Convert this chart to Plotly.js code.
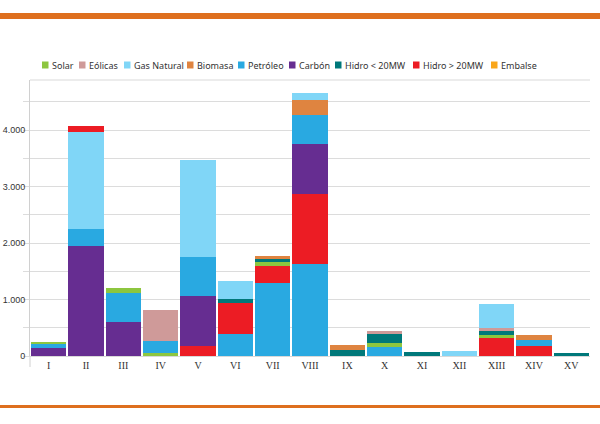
<!DOCTYPE html>
<html>
<head>
<meta charset="utf-8">
<script src="https://cdn.plot.ly/plotly-3.0.1.min.js"></script>
<style>
html,body{margin:0;padding:0;background:#fff;}
#chart{width:600px;height:424px;}
</style>
</head>
<body>
<div id="chart"></div>
<script>
// Categories (regions)
const categories = ['I','II','III','IV','V','VI','VII','VIII','IX','X','XI','XII','XIII','XIV','XV'];

// Series values (MW); some series appear at two stack levels
//                          I    II   III  IV   V    VI   VII   VIII  IX   X    XI  XII XIII XIV  XV
const solarLow        = [   0,   0,   0,  45,   0,   0,    0,    0,   0,   0,   0,  0,   0,   0,  0];
const petroleoLow     = [   0,   0,   0, 215,   0, 395, 1300, 1620,   0, 165,   0,  0,   0,   0,  0];
const hidroMayorLow   = [   0,   0,   0,   0, 185, 550,  285, 1240,   0,   0,   0,  0, 325, 175,  0];
const carbon          = [ 150,1950, 600,   0, 880,   0,    0,  900,   0,   0,   0,  0,   0,   0,  0];
const petroleo        = [  70, 300, 520,   0, 695,   0,    0,  500,   0,   0,   0,  0,   0, 100,  0];
const solar           = [  30,   0,  90,   0,   0,   0,   75,    0,   0,  60,   0,  0,  45,   0,  0];
const hidroMenor      = [   0,   0,   0,   0,   0,  70,   60,    0, 115, 165,  75,  0,  70,   0, 55];
const eolicas         = [   0,   0,   0, 550,   0,   0,    0,    0,   0,  50,   0,  0,  48,   0,  0];
const biomasa         = [   0,   0,   0,   0,   0,   0,   55,  265,  85,   0,   0,  0,   0, 100,  0];
const gasNatural      = [   0,1720,   0,   0,1710, 310,    0,  135,   0,   0,   0, 95, 430,   0,  0];
const hidroMayorHigh  = [   0, 105,   0,   0,   0,   0,    0,    0,   0,   0,   0,  0,   0,   0,  0];
const embalse         = [   0,   0,   0,   0,   0,   0,    0,    0,   0,   0,   0,  0,   0,   0,  0];

// Legend labels and colours
const legendLabels = ['Solar','Eólicas','Gas Natural','Biomasa','Petróleo','Carbón','Hidro < 20MW','Hidro > 20MW','Embalse'];
const colors = {
  solar:'#8dc63f', eolicas:'#cf9a99', gas:'#80d6f7', biomasa:'#df8440',
  petroleo:'#29a9e1', carbon:'#662d91', hidroMenor:'#00787a', hidroMayor:'#ec1c24', embalse:'#f9a61a'
};
const legendColors = [colors.solar, colors.eolicas, colors.gas, colors.biomasa, colors.petroleo, colors.carbon, colors.hidroMenor, colors.hidroMayor, colors.embalse];

const stack = [
  ['Solar', solarLow, colors.solar],
  ['Petróleo', petroleoLow, colors.petroleo],
  ['Hidro > 20MW', hidroMayorLow, colors.hidroMayor],
  ['Carbón', carbon, colors.carbon],
  ['Petróleo', petroleo, colors.petroleo],
  ['Solar', solar, colors.solar],
  ['Hidro < 20MW', hidroMenor, colors.hidroMenor],
  ['Eólicas', eolicas, colors.eolicas],
  ['Biomasa', biomasa, colors.biomasa],
  ['Gas Natural', gasNatural, colors.gas],
  ['Hidro > 20MW', hidroMayorHigh, colors.hidroMayor],
  ['Embalse', embalse, colors.embalse]
];

const traces = stack.map(([name, vals, col]) => ({
  type:'bar', name:name, x:categories, y:vals,
  marker:{color:col, line:{width:0}}, showlegend:false,
  hovertemplate:'%{x}: %{y}<extra>'+name+'</extra>'
}));

// Manual legend (layout only): pixel positions of each entry's swatch
const W = 560, H = 276, L = 30, T = 80;
const legendX = [42, 79, 124, 187, 238, 289, 335, 413, 491];
const legendY = 65;
const px2x = p => (p - L) / W;
const px2y = p => (T + H - p) / H;

const shapes = [
  // orange rules
  {type:'line', xref:'paper', yref:'paper', x0:px2x(0), x1:px2x(600), y0:px2y(16), y1:px2y(16), line:{color:'#de6f1e', width:6}},
  {type:'line', xref:'paper', yref:'paper', x0:px2x(0), x1:px2x(600), y0:px2y(406.5), y1:px2y(406.5), line:{color:'#de6f1e', width:3}},
  // top frame line of plot area
  {type:'line', xref:'paper', yref:'paper', x0:0, x1:1, y0:1, y1:1, line:{color:'#d9d9d9', width:1}},
  // axis extension below baseline at the left
  {type:'line', xref:'paper', yref:'paper', x0:0, x1:0, y0:0, y1:px2y(367), line:{color:'#d0d0d0', width:1}}
];
const annotations = [];
legendLabels.forEach((lab, i) => {
  shapes.push({type:'rect', xref:'paper', yref:'paper',
    x0:px2x(legendX[i]), x1:px2x(legendX[i]+6.5), y0:px2y(legendY+3.5), y1:px2y(legendY-3.5),
    fillcolor:legendColors[i], line:{width:0}});
  annotations.push({xref:'paper', yref:'paper', x:px2x(legendX[i]+8), y:px2y(legendY),
    xanchor:'left', yanchor:'middle', text:lab, showarrow:false,
    font:{family:'Noto Sans, Open Sans, sans-serif', size:9, color:'#333'}});
});

const layout = {
  width:600, height:424,
  margin:{l:L, r:10, t:T, b:68, pad:0},
  paper_bgcolor:'#fff', plot_bgcolor:'#fff',
  barmode:'stack', bargap:0.06,
  separators:',.',
  showlegend:false,
  xaxis:{
    type:'category', showgrid:false, zeroline:false,
    showline:true, linecolor:'#d9d9d9', linewidth:1,
    ticks:'', tickfont:{family:'Liberation Serif, DejaVu Serif, serif', size:10, color:'#333'},
    fixedrange:true
  },
  yaxis:{
    range:[0, 4885], dtick:1000, tickformat:',d',
    showgrid:true, gridcolor:'#dcdcdc', gridwidth:1,
    zeroline:false, showline:true, linecolor:'#d0d0d0', linewidth:1,
    ticks:'outside', ticklen:6, tickcolor:'#dcdcdc', tickwidth:1,
    ticklabelstandoff:-4,
    minor:{dtick:500, showgrid:true, gridcolor:'#dcdcdc', ticks:'outside', ticklen:6, tickcolor:'#dcdcdc'},
    tickfont:{family:'Liberation Sans, Arial, sans-serif', size:9, color:'#333'},
    fixedrange:true
  },
  shapes:shapes,
  annotations:annotations
};

Plotly.newPlot('chart', traces, layout, {displayModeBar:false, staticPlot:true});
</script>
</body>
</html>
